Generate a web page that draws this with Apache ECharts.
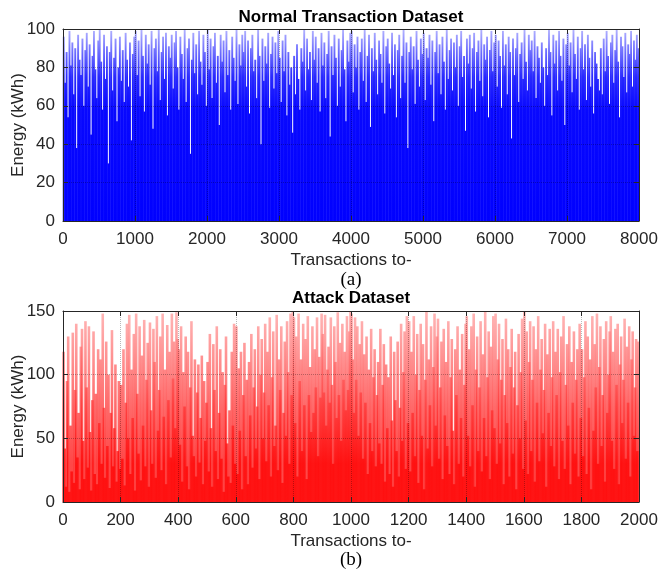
<!DOCTYPE html>
<html>
<head>
<meta charset="utf-8">
<script src="https://cdn.jsdelivr.net/npm/echarts@6/dist/echarts.min.js"></script>
<style>
html,body{margin:0;padding:0;background:#fff;}
#chart{width:663px;height:572px;}
</style>
</head>
<body>
<div id="chart"></div>
<script>
// ---- Data (read/estimated from the reference picture) ----
// Normal dataset: one value per 20 transactions (0..8000)
const normalStep = 20;
const normalValues = [
96,72,88,54,99,81,93,66,90,38,97,84,76,95,60,89,98,70,92,45,86,99,79,64,94,
100,83,58,97,74,91,30,88,99,68,85,95,52,80,96,73,89,62,98,84,70,93,42,87,96,
99,76,94,65,100,86,57,97,82,92,71,99,48,90,95,78,100,63,88,96,74,98,55,91,85,
97,69,93,99,80,58,96,87,74,100,62,90,95,35,84,98,77,92,66,99,83,71,97,88,60,
100,79,95,64,91,98,72,86,50,97,83,94,67,99,76,89,58,96,85,73,100,61,92,81,97,
88,99,70,94,56,90,97,78,84,64,100,86,40,95,73,91,82,98,59,87,96,69,93,77,99,
85,62,94,78,97,55,88,71,80,46,86,66,92,74,58,90,83,100,68,95,79,88,63,99,84,
96,72,90,57,98,81,93,64,87,99,44,91,76,97,85,60,95,70,89,100,79,52,94,83,98,
99,67,92,80,96,58,88,95,73,100,62,86,97,49,90,78,98,84,66,94,87,72,99,56,91,
95,82,69,98,76,92,54,89,97,64,86,100,72,93,38,88,96,79,91,61,99,84,70,95,87,
98,63,90,85,97,71,94,52,88,99,77,92,66,96,83,58,100,74,89,95,68,93,80,97,60,
91,99,75,86,47,95,82,97,69,90,98,57,88,94,73,100,65,92,84,96,54,89,99,78,93,
97,70,94,86,59,99,81,92,66,96,88,43,95,76,90,98,62,87,93,74,100,83,68,97,89,
94,78,99,64,91,85,72,93,80,60,90,76,100,88,55,97,82,94,68,99,86,73,95,50,92,
98,81,93,67,100,87,74,96,58,90,99,79,92,63,97,85,70,94,56,88,82,74,68,90,66,
95,78,99,86,61,93,97,72,89,100,83,54,96,91,75,98,67,92,87,99,70,94,84,97,90
];
// Attack dataset: one value per 4 transactions (0..2000)
const attackStep = 4;
const attackValues = [
118,42,12,95,130,8,60,24,133,15,88,140,35,70,10,122,136,48,18,142,90,27,138,55,9,
80,134,22,85,14,120,62,112,30,148,74,19,126,44,100,11,70,135,28,58,108,16,40,95,26,
92,34,120,13,78,140,50,147,22,104,66,132,9,148,85,38,138,17,115,60,143,28,96,125,12,
141,72,30,136,110,19,146,56,88,130,25,148,67,104,14,139,80,118,35,148,97,126,58,149,128,
120,45,138,16,102,75,130,28,118,10,90,142,52,36,112,20,86,108,31,66,115,14,95,48,78,
110,24,132,58,12,124,88,40,138,18,70,120,34,102,8,92,130,46,20,72,15,118,60,140,30,
138,22,105,56,118,10,84,125,36,96,14,110,68,132,27,90,120,42,75,138,18,100,128,50,86,
140,32,118,76,145,20,98,134,44,60,147,25,112,88,138,15,70,126,52,142,102,30,148,84,150,
145,62,130,20,148,95,112,40,140,76,128,18,146,84,106,55,138,70,120,90,145,36,114,82,148,
132,86,147,60,104,122,78,145,92,30,138,110,66,149,84,125,48,140,96,118,72,146,88,134,150,
148,112,70,145,96,138,52,124,86,142,34,116,78,130,22,104,62,136,40,98,120,28,84,110,46,
136,30,92,124,16,108,58,98,22,130,64,12,118,80,40,126,20,74,140,48,102,134,26,146,62,
142,24,118,70,146,36,100,132,15,88,140,52,124,10,96,150,42,112,76,138,28,106,148,60,130,
144,34,90,126,18,136,68,110,44,142,22,98,128,56,14,120,84,138,30,104,66,132,20,92,140,
146,52,120,28,138,76,148,12,104,130,40,90,142,24,116,66,150,36,98,134,18,122,72,146,58,
148,30,112,140,46,96,128,14,84,144,62,120,20,106,136,38,90,118,10,76,132,50,102,144,26,
150,64,134,22,110,142,40,96,138,16,120,78,146,32,104,128,54,88,140,12,116,70,136,44,98,
142,28,118,84,136,18,102,130,48,146,26,92,124,60,138,14,110,78,134,38,96,120,20,140,66,
120,36,98,142,22,130,74,112,10,146,56,124,90,148,30,106,138,44,84,128,16,142,70,100,134,
146,48,118,26,136,92,140,14,108,130,62,96,144,34,122,78,138,20,112,134,52,90,128,40,126
];
const titles = ['Normal Transaction Dataset', 'Attack Dataset'];
const subLabels = ['(a)', '(b)'];
const xAxisName = 'Transactions to-';
const yAxisName = 'Energy (kWh)';
const xRanges = [[0, 8000, 1000], [0, 2000, 200]];
const yRanges = [[0, 100, 20], [0, 150, 50]];

// ---- Chart ----
const normalData = normalValues.map((v, i) => [i * normalStep + normalStep / 2, v]);
const attackData = attackValues.map((v, i) => [i * attackStep + attackStep / 2, v]);

const FONT = '"Liberation Sans", Arial, Helvetica, sans-serif';
const TXT = '#262626';
const grids = [
  {left: 63, right: 24, top: 29, height: 192, containLabel: false, outerBoundsMode: 'none'},
  {left: 63, right: 24, top: 311, height: 191, containLabel: false, outerBoundsMode: 'none'}
];
const splitStyle = {type: 'dotted', color: 'rgba(0,0,0,0.28)', width: 1};
const axisLineStyle = {color: TXT, width: 1};
const plain = v => String(v);

const xAxes = [], yAxes = [];
grids.forEach((g, k) => {
  const xr = xRanges[k], yr = yRanges[k];
  xAxes.push({
    gridIndex: k, type: 'value', min: xr[0], max: xr[1], interval: xr[2], position: 'bottom',
    name: xAxisName, nameLocation: 'middle', nameGap: 31, nameMoveOverlap: false,
    nameTextStyle: {fontFamily: FONT, fontSize: 17, color: TXT},
    axisLine: {show: true, onZero: false, lineStyle: axisLineStyle},
    axisTick: {show: true, inside: true, length: 5, lineStyle: axisLineStyle},
    axisLabel: {fontFamily: FONT, fontSize: 17, color: TXT, margin: 10, formatter: plain,
                showMinLabel: true, showMaxLabel: true, hideOverlap: false},
    splitLine: {show: true, lineStyle: splitStyle},
    z: 5
  });
  xAxes.push({
    gridIndex: k, type: 'value', min: xr[0], max: xr[1], interval: xr[2], position: 'top',
    axisLine: {show: true, onZero: false, lineStyle: axisLineStyle},
    axisTick: {show: true, inside: true, length: 5, lineStyle: axisLineStyle},
    axisLabel: {show: false}, splitLine: {show: false}, z: 5
  });
  yAxes.push({
    gridIndex: k, type: 'value', min: yr[0], max: yr[1], interval: yr[2], position: 'left',
    name: yAxisName, nameLocation: 'middle', nameGap: 36, nameRotate: 90, nameMoveOverlap: false,
    nameTextStyle: {fontFamily: FONT, fontSize: 17, color: TXT},
    axisLine: {show: true, onZero: false, lineStyle: axisLineStyle},
    axisTick: {show: true, inside: true, length: 5, lineStyle: axisLineStyle},
    axisLabel: {fontFamily: FONT, fontSize: 17, color: TXT, margin: 8, formatter: plain},
    splitLine: {show: true, lineStyle: splitStyle},
    z: 5
  });
  yAxes.push({
    gridIndex: k, type: 'value', min: yr[0], max: yr[1], interval: yr[2], position: 'right',
    axisLine: {show: true, onZero: false, lineStyle: axisLineStyle},
    axisTick: {show: true, inside: true, length: 5, lineStyle: axisLineStyle},
    axisLabel: {show: false}, splitLine: {show: false}, z: 5
  });
});

// vertical fades (styling only): dense saturated colour low, paler near the top
const blueFade = new echarts.graphic.LinearGradient(0, 29, 0, 221, [
  {offset: 0, color: '#b4b4ff'},
  {offset: 0.12, color: '#6c6cff'},
  {offset: 0.25, color: '#2828ff'},
  {offset: 0.42, color: '#0808ff'},
  {offset: 1, color: '#0000ff'}
], true);
const redFade = new echarts.graphic.LinearGradient(0, 311, 0, 502, [
  {offset: 0, color: '#ff9a9a'},
  {offset: 0.5, color: '#ff3030'},
  {offset: 0.8, color: '#ff0000'},
  {offset: 1, color: '#ff0000'}
], true);

const chart = echarts.init(document.getElementById('chart'), null, {renderer: 'canvas'});
chart.setOption({
  animation: false,
  backgroundColor: '#ffffff',
  grid: grids,
  xAxis: xAxes,
  yAxis: yAxes,
  series: [
    {type: 'bar', xAxisIndex: 0, yAxisIndex: 0, data: normalData, barWidth: 1.9, clip: true,
     itemStyle: {color: blueFade}, z: 2},
    {type: 'bar', xAxisIndex: 2, yAxisIndex: 2, data: attackData, barWidth: 2.6, clip: true,
     itemStyle: {color: redFade, opacity: 0.72}, z: 2}
  ],
  graphic: [
    {type: 'text', x: 351, y: 17, z: 10, style: {text: titles[0], align: 'center', verticalAlign: 'middle', textAlign: 'center', textVerticalAlign: 'middle', font: 'bold 17px ' + FONT, fill: '#000'}},
    {type: 'text', x: 351, y: 298, z: 10, style: {text: titles[1], align: 'center', verticalAlign: 'middle', textAlign: 'center', textVerticalAlign: 'middle', font: 'bold 17px ' + FONT, fill: '#000'}},
    {type: 'text', x: 351, y: 280, z: 10, style: {text: subLabels[0], align: 'center', verticalAlign: 'middle', textAlign: 'center', textVerticalAlign: 'middle', font: '19px "Liberation Serif", "Times New Roman", serif', fill: '#000'}},
    {type: 'text', x: 351, y: 560, z: 10, style: {text: subLabels[1], align: 'center', verticalAlign: 'middle', textAlign: 'center', textVerticalAlign: 'middle', font: '19px "Liberation Serif", "Times New Roman", serif', fill: '#000'}}
  ]
});
</script>
</body>
</html>
